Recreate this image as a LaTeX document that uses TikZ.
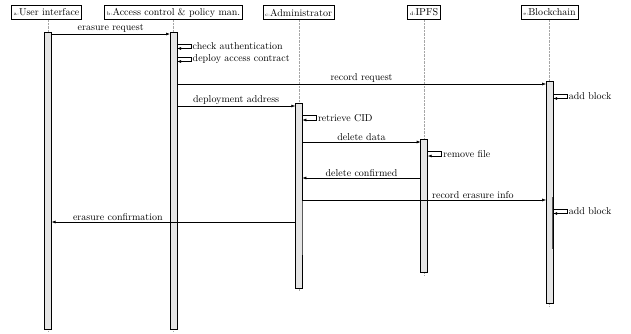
\documentclass[tikz,border=0pt]{standalone}
\usetikzlibrary{arrows.meta}
\begin{document}
\begin{tikzpicture}[x=1pt,y=-1pt,
  inst/.style={draw=black,fill=white,line width=0.5pt,inner sep=2.2pt,minimum height=14pt,font=\normalsize},
  lifeline/.style={draw=gray!70,densely dotted,line width=0.4pt},
  bar/.style={draw=black,fill=gray!20,line width=0.6pt},
  msg/.style={draw=black,line width=0.6pt,-{Latex[length=4pt,width=3pt]}},
  lbl/.style={above,inner sep=1.2pt,font=\normalsize},
  slbl/.style={right,inner sep=1.5pt,font=\normalsize}]
\useasboundingbox (0,0) rectangle (631,333);
% instances
\node[inst] (ha) at (46.5,12.5) {{\tiny a:}User interface};
\node[inst] (hb) at (173.5,12.5) {{\tiny b:}Access control \& policy man.};
\node[inst] (hc) at (298.5,12.5) {{\tiny c:}Administrator};
\node[inst] (hd) at (424,12.5) {{\tiny d:}IPFS};
\node[inst] (he) at (549.5,12.5) {{\tiny e:}Blockchain};
% lifelines
\coordinate (ea) at (48,332);
\coordinate (eb) at (173.5,332);
\coordinate (ec) at (298.8,291);
\coordinate (ed) at (424.2,275);
\coordinate (ee) at (549.6,306);
\draw[lifeline] (48,20) -- (ea);
\draw[lifeline] (173.5,20) -- (eb);
\draw[lifeline] (298.8,20) -- (ec);
\draw[lifeline] (424.2,20) -- (ed);
\draw[lifeline] (549.6,20) -- (ee);
% activation bars
\draw[bar] (44.5,32) rectangle (51.5,329);
\draw[bar] (170,32) rectangle (177,329);
\draw[bar] (295.3,103) rectangle (302.3,288);
\draw[bar] (420.7,139) rectangle (427.7,272);
\draw[bar] (546.1,81) rectangle (553.1,303);
% nested call shading
\draw[gray!70!black,line width=0.7pt] (302,200) -- (302,255);
\draw[gray!70!black,line width=0.7pt] (552.8,197) -- (552.8,249);
% coordinates on bars
\coordinate (a1) at (51.5,34);   \coordinate (b1) at (170,34);
\coordinate (b2) at (177,84);    \coordinate (e2) at (546.1,84);
\coordinate (b3) at (177,106);   \coordinate (c3) at (295.3,106);
\coordinate (c4) at (302.3,142); \coordinate (d4) at (420.7,142);
\coordinate (d5) at (420.7,178); \coordinate (c5) at (302.3,178);
\coordinate (c6) at (302.3,200); \coordinate (e6) at (546.1,200);
\coordinate (c7) at (295.3,222); \coordinate (a7) at (51.5,222);
% messages
\draw[msg] (a1) -- (b1) node[lbl,midway] {erasure request};
\draw[msg] (b2) -- (e2) node[lbl,midway] {record request};
\draw[msg] (b3) -- (c3) node[lbl,midway] {deployment address};
\draw[msg] (c4) -- (d4) node[lbl,midway] {delete data};
\draw[msg] (d5) -- (c5) node[lbl,midway] {delete confirmed};
\draw[msg] (c6) -- (e6) node[lbl,pos=0.7] {record erasure info};
\draw[msg] (c7) -- (a7) node[lbl,pos=0.728] {erasure confirmation};
% self calls
\foreach \x/\y/\t in {177/44/check authentication, 177/57/deploy access contract,
  553.1/94/add block, 302.3/115.5/retrieve CID, 427.7/151.5/remove file, 553.1/209/add block}{
  \draw[msg] (\x,\y) -- (\x+14,\y) -- (\x+14,\y+4.5) -- (\x,\y+4.5);
  \node[slbl] at (\x+14,\y+2.3) {\t};
}
\end{tikzpicture}
\end{document}
